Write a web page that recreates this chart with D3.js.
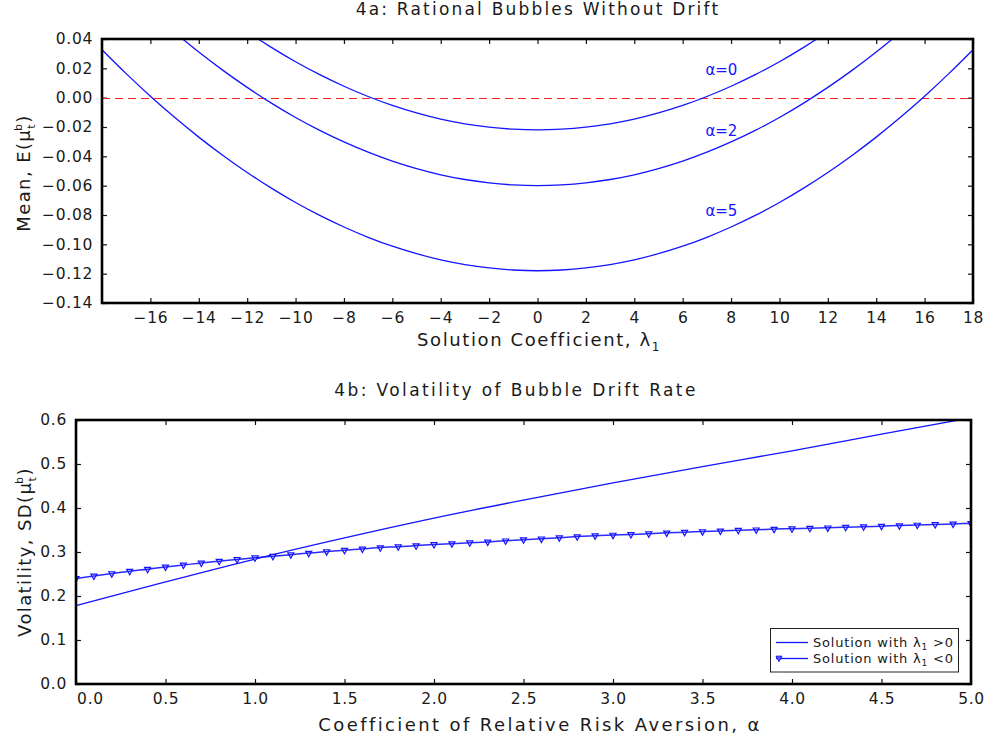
<!DOCTYPE html>
<html><head><meta charset="utf-8">
<script src="https://cdn.jsdelivr.net/npm/d3@7"></script>
<style>
body{margin:0;background:#fff}
svg text{font-family:"DejaVu Sans",sans-serif;fill:#1a1a1a}
</style></head><body>
<svg id="c" width="989" height="742"></svg>
<script>
// ---------- Panel 4a data ----------
const lambdaGrid = [-18,-17,-16,-15,-14,-13,-12,-11,-10,-9,-8,-7,-6,-5,-4,-3,-2,-1,0,1,2,3,4,5,6,7,8,9,10,11,12,13,14,15,16,17,18];
const meanAlpha0 = [0.1287,0.1124,0.0970,0.0826,0.0691,0.0566,0.0450,0.0343,0.0245,0.0157,0.0078,0.0008,-0.0053,-0.0104,-0.0146,-0.0178,-0.0201,-0.0215,-0.0220,-0.0215,-0.0201,-0.0178,-0.0146,-0.0104,-0.0053,0.0008,0.0078,0.0157,0.0245,0.0343,0.0450,0.0566,0.0691,0.0826,0.0970,0.1124,0.1287];
const meanAlpha2 = [0.0907,0.0744,0.0590,0.0446,0.0311,0.0186,0.0070,-0.0037,-0.0135,-0.0223,-0.0302,-0.0372,-0.0433,-0.0484,-0.0526,-0.0558,-0.0581,-0.0595,-0.0600,-0.0595,-0.0581,-0.0558,-0.0526,-0.0484,-0.0433,-0.0372,-0.0302,-0.0223,-0.0135,-0.0037,0.0070,0.0186,0.0311,0.0446,0.0590,0.0744,0.0907];
const meanAlpha5 = [0.0327,0.0164,0.0010,-0.0134,-0.0269,-0.0394,-0.0510,-0.0617,-0.0715,-0.0803,-0.0882,-0.0952,-0.1013,-0.1064,-0.1106,-0.1138,-0.1161,-0.1175,-0.1180,-0.1175,-0.1161,-0.1138,-0.1106,-0.1064,-0.1013,-0.0952,-0.0882,-0.0803,-0.0715,-0.0617,-0.0510,-0.0394,-0.0269,-0.0134,0.0010,0.0164,0.0327];
const curveLabels = ["\u03b1=0","\u03b1=2","\u03b1=5"];
const curveLabelLambda = [7.6,7.6,7.6];
const curveLabelMean = [0.0155,-0.0262,-0.0808];
const topXTicks = [-16,-14,-12,-10,-8,-6,-4,-2,0,2,4,6,8,10,12,14,16,18];
const topYTicks = [-0.14,-0.12,-0.10,-0.08,-0.06,-0.04,-0.02,0.00,0.02,0.04];

// ---------- Panel 4b data ----------
const posAlpha = [0,0.5,1,1.5,2,2.5,3,3.5,4,4.5,5];
const posVol = [0.178,0.232,0.284,0.332,0.377,0.418,0.457,0.494,0.530,0.568,0.605];
const negAlpha = [0,0.1,0.2,0.3,0.4,0.5,0.6,0.7,0.8,0.9,1.0,1.1,1.2,1.3,1.4,1.5,1.6,1.7,1.8,1.9,2.0,2.1,2.2,2.3,2.4,2.5,2.6,2.7,2.8,2.9,3.0,3.1,3.2,3.3,3.4,3.5,3.6,3.7,3.8,3.9,4.0,4.1,4.2,4.3,4.4,4.5,4.6,4.7,4.8,4.9,5.0];
const negVol = [0.240,0.2455,0.251,0.2565,0.261,0.266,0.2705,0.275,0.279,0.283,0.287,0.2905,0.294,0.2975,0.301,0.304,0.307,0.310,0.312,0.3145,0.317,0.319,0.321,0.323,0.3255,0.328,0.330,0.3325,0.335,0.337,0.3385,0.340,0.3415,0.3435,0.345,0.3465,0.348,0.3495,0.3505,0.352,0.353,0.354,0.355,0.3563,0.3575,0.3588,0.360,0.3613,0.3625,0.3638,0.365];
const botXTicks = [0,0.5,1,1.5,2,2.5,3,3.5,4,4.5,5];
const botYTicks = [0,0.1,0.2,0.3,0.4,0.5,0.6];

const svg = d3.select("#c");
const BLUE = "#1414ff";

function frame(x, y, xt, yt, fmtX, fmtY, id) {
  const [l, r] = x.range(), [b, t] = y.range();
  const g = svg.append("g");
  const ax = g.append("g").attr("transform", `translate(0,${b})`)
    .call(d3.axisBottom(x).tickValues(xt).tickSize(-5).tickFormat(fmtX));
  ax.selectAll("text").attr("y", 20).attr("dy", null).style("font-size", "15.5px").style("letter-spacing", "0.7px");
  g.append("g").attr("transform", `translate(0,${t})`)
    .call(d3.axisTop(x).tickValues(xt).tickSize(-5).tickFormat(""));
  const ay = g.append("g").attr("transform", `translate(${l},0)`)
    .call(d3.axisLeft(y).tickValues(yt).tickSize(-5).tickPadding(9).tickFormat(fmtY));
  ay.selectAll("text").style("font-size", "15.5px").style("letter-spacing", "0.7px");
  g.append("g").attr("transform", `translate(${r},0)`)
    .call(d3.axisRight(y).tickValues(yt).tickSize(-5).tickFormat(""));
  g.selectAll(".domain").remove();
  g.selectAll(".tick line").attr("stroke", "#111").attr("stroke-width", 1.2);
  svg.append("clipPath").attr("id", id).append("rect")
    .attr("x", l).attr("y", t).attr("width", r - l).attr("height", b - t);
  return {g, ax, l, r, t, b};
}
function box(f) {
  svg.append("rect").attr("x", f.l).attr("y", f.t).attr("width", f.r - f.l).attr("height", f.b - f.t)
    .attr("fill", "none").attr("stroke", "#000").attr("stroke-width", 2.6);
}

// ---------- Top panel ----------
const x1 = d3.scaleLinear([-18, 18], [102, 973]);
const y1 = d3.scaleLinear([-0.14, 0.04], [303, 39]);
const f1 = frame(x1, y1, topXTicks, topYTicks, d3.format("d"), d3.format(".2f"), "clipTop");
const p1 = svg.append("g").attr("clip-path", "url(#clipTop)");
const zeroY = Math.round(y1(0)) + 0.5;
p1.append("line").attr("x1", x1(-18)).attr("x2", x1(18)).attr("y1", zeroY).attr("y2", zeroY)
  .attr("stroke", "#ff1f1f").attr("stroke-width", 1.2).attr("stroke-dasharray", "8,5");
const line1 = d3.line().x((d, i) => x1(lambdaGrid[i])).y(d => y1(d)).curve(d3.curveCatmullRom);
[meanAlpha0, meanAlpha2, meanAlpha5].forEach(s => {
  p1.append("path").attr("d", line1(s)).attr("fill", "none").attr("stroke", BLUE).attr("stroke-width", 1.3);
});
curveLabels.forEach((t, i) => {
  svg.append("text").attr("x", x1(curveLabelLambda[i])).attr("y", y1(curveLabelMean[i]))
    .attr("text-anchor", "middle").style("font-size", "15px").style("fill", BLUE).text(t);
});
box(f1);
svg.append("text").attr("x", 538).attr("y", 15).attr("text-anchor", "middle")
  .style("font-size", "17px").style("letter-spacing", "2.2px").text("4a: Rational Bubbles Without Drift");
{
  const t = svg.append("text").attr("x", 539).attr("y", 346).attr("text-anchor", "middle")
    .style("font-size", "18px").style("letter-spacing", "1.6px");
  t.append("tspan").text("Solution Coefficient, \u03bb");
  t.append("tspan").attr("dy", 5).style("font-size", "12px").text("1");
}
{
  const t = svg.append("text").attr("transform", "translate(30,173) rotate(-90)").attr("text-anchor", "middle")
    .style("font-size", "18px").style("letter-spacing", "1.4px");
  t.append("tspan").text("Mean, E(\u03bc");
  t.append("tspan").attr("dy", 5).style("font-size", "11px").text("t");
  t.append("tspan").attr("dx", -8).attr("dy", -13).style("font-size", "11px").text("b");
  t.append("tspan").attr("dy", 8).text(")");
}

// ---------- Bottom panel ----------
const x2 = d3.scaleLinear([0, 5], [76, 971]);
const y2 = d3.scaleLinear([0, 0.6], [684, 420]);
const f2 = frame(x2, y2, botXTicks, botYTicks, d3.format(".1f"), d3.format(".1f"), "clipBot");
f2.ax.selectAll(".tick").filter(d => d === 0).select("text").attr("x", 14);
const p2 = svg.append("g").attr("clip-path", "url(#clipBot)");
const lPos = d3.line().x((d, i) => x2(posAlpha[i])).y(d => y2(d)).curve(d3.curveMonotoneX);
const lNeg = d3.line().x((d, i) => x2(negAlpha[i])).y(d => y2(d)).curve(d3.curveMonotoneX);
p2.append("path").attr("d", lPos(posVol)).attr("fill", "none").attr("stroke", BLUE).attr("stroke-width", 1.3);
const tri = (cx, cy) => `M${cx - 3},${cy - 1.8}L${cx + 3},${cy - 1.8}L${cx},${cy + 3.6}Z`;
p2.selectAll("path.m").data(negVol).join("path").attr("class", "m")
  .attr("d", (d, i) => tri(x2(negAlpha[i]), y2(d)))
  .attr("fill", "#fff").attr("stroke", BLUE).attr("stroke-width", 1.2);
p2.append("path").attr("d", lNeg(negVol)).attr("fill", "none").attr("stroke", BLUE).attr("stroke-width", 1.5).attr("opacity", 0.9);
box(f2);
svg.append("text").attr("x", 516).attr("y", 396).attr("text-anchor", "middle")
  .style("font-size", "17px").style("letter-spacing", "2.4px").text("4b: Volatility of Bubble Drift Rate");
svg.append("text").attr("x", 540).attr("y", 731).attr("text-anchor", "middle")
  .style("font-size", "18px").style("letter-spacing", "2.4px").text("Coefficient of Relative Risk Aversion, \u03b1");
{
  const t = svg.append("text").attr("transform", "translate(31,552) rotate(-90)").attr("text-anchor", "middle")
    .style("font-size", "18px").style("letter-spacing", "1.4px");
  t.append("tspan").text("Volatility, SD(\u03bc");
  t.append("tspan").attr("dy", 5).style("font-size", "11px").text("t");
  t.append("tspan").attr("dx", -8).attr("dy", -13).style("font-size", "11px").text("b");
  t.append("tspan").attr("dy", 8).text(")");
}
// legend
{
  const lg = svg.append("g");
  lg.append("rect").attr("x", 770.5).attr("y", 628.5).attr("width", 188).attr("height", 43.5)
    .attr("fill", "#fff").attr("stroke", "#222").attr("stroke-width", 1);
  const rows = [{y: 642.5, label: "Solution with \u03bb", tail: " >0", m: false},
                {y: 658.5, label: "Solution with \u03bb", tail: " <0", m: true}];
  rows.forEach(r => {
    lg.append("line").attr("x1", 776).attr("x2", 808).attr("y1", r.y).attr("y2", r.y)
      .attr("stroke", BLUE).attr("stroke-width", 1.3);
    if (r.m) lg.append("path").attr("d", tri(779, r.y - 0.5)).attr("fill", "#6060ff").attr("stroke", BLUE).attr("stroke-width", 1);
    const t = lg.append("text").attr("x", 813).attr("y", r.y + 4.5).style("font-size", "13px").style("letter-spacing", "0.8px");
    t.append("tspan").text(r.label);
    t.append("tspan").attr("dy", 3).style("font-size", "9px").text("1");
    t.append("tspan").attr("dy", -3).text(r.tail);
  });
}
</script>
</body></html>
